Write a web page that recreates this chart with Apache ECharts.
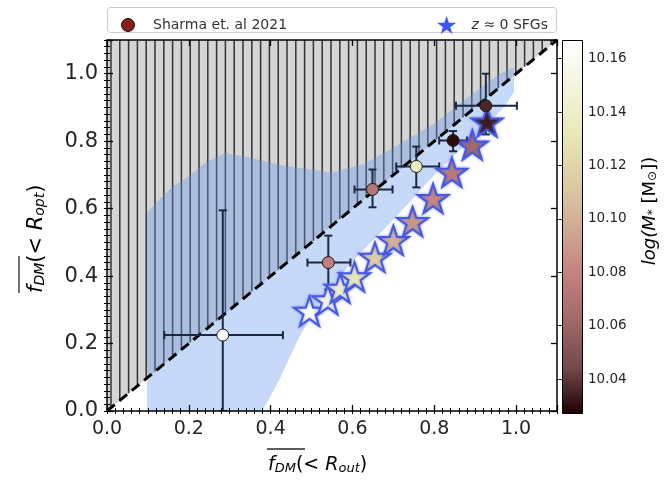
<!DOCTYPE html>
<html><head><meta charset="utf-8">
<script src="https://cdn.jsdelivr.net/npm/echarts@6/dist/echarts.min.js"></script>
<style>html,body{margin:0;padding:0;background:#fff}#c{width:668px;height:488px}</style>
</head><body><div id="c"></div>
<script>
// ---- data ----
const sharmaX    = [0.283, 0.541, 0.649, 0.756, 0.846, 0.926];
const sharmaY    = [0.225, 0.440, 0.657, 0.725, 0.802, 0.905];
const sharmaXLo  = [0.140, 0.490, 0.605, 0.707, 0.812, 0.853];
const sharmaXHi  = [0.430, 0.595, 0.698, 0.812, 0.880, 1.002];
const sharmaYLo  = [0.000, 0.360, 0.604, 0.663, 0.770, 0.820];
const sharmaYHi  = [0.595, 0.520, 0.716, 0.784, 0.830, 1.000];
const sharmaMass = [10.165, 10.078, 10.072, 10.138, 10.030, 10.036];

const sfgX    = [0.495, 0.540, 0.570, 0.605, 0.655, 0.700, 0.747, 0.797, 0.843, 0.893, 0.929];
const sfgY    = [0.296, 0.330, 0.364, 0.398, 0.456, 0.506, 0.562, 0.630, 0.708, 0.789, 0.857];
const sfgMass = [10.165, 10.153, 10.142, 10.132, 10.115, 10.101, 10.089, 10.081, 10.075, 10.063, 10.034];

const bandUpperX = [0.098, 0.130, 0.160, 0.195, 0.240, 0.290, 0.350, 0.430, 0.550, 0.630, 0.700, 0.800, 0.880, 0.960, 0.995];
const bandUpperY = [0.589, 0.630, 0.665, 0.692, 0.735, 0.766, 0.751, 0.728, 0.707, 0.733, 0.781, 0.852, 0.929, 1.000, 1.020];
const bandLowerX = [0.098, 0.380, 0.420, 0.470, 0.520, 0.570, 0.620, 0.670, 0.740, 0.800, 0.860, 0.920, 0.970, 0.995];
const bandLowerY = [0.000, 0.000, 0.090, 0.220, 0.320, 0.400, 0.470, 0.530, 0.620, 0.700, 0.770, 0.840, 0.900, 0.945];

const hatchX = [0, 1.1, 0];
const hatchY = [0, 1.1, 1.1];
const identityX = [0, 1.1];
const identityY = [0, 1.1];

const xTickLabels = [0, 0.2, 0.4, 0.6, 0.8, 1.0];
const yTickLabels = [0, 0.2, 0.4, 0.6, 0.8, 1.0];
const cbTickLabels = [10.04, 10.06, 10.08, 10.10, 10.12, 10.14, 10.16];
const massMin = 10.0273, massMax = 10.167;

const pinkColors = ['#1e0000', '#744a4a', '#a16868', '#c38280', '#d0ab93', '#ddcda5', '#e9e9b5', '#f4f4dd', '#ffffff'];

const FONT = 'DejaVu Sans';
const starPath = 'path://M50,0 L61.8,35.4 L99,35.4 L69,57.3 L80.3,92.7 L50,70.8 L19.7,92.7 L31,57.3 L1,35.4 L38.2,35.4 Z';

// ---- chart ----
const chart = echarts.init(document.getElementById('c'), null, {renderer: 'canvas'});

function mkX(opts) {
  return Object.assign({
    type: 'value', gridIndex: 0, min: 0, max: 1.1, z: 10,
    splitLine: {show: false},
    axisLine: {show: false},
    axisLabel: {show: false},
    axisTick: {show: true, inside: true, length: 6, lineStyle: {color: '#000', width: 1.3}}
  }, opts);
}
const xAxes = [
  mkX({position: 'bottom', interval: 0.2,
       axisLine: {show: true, onZero: false, lineStyle: {color: '#000', width: 1.5}},
       axisLabel: {show: true, customValues: xTickLabels, formatter: v => v.toFixed(1), fontFamily: FONT, fontSize: 19, color: '#262626', margin: 9}}),
  mkX({position: 'bottom', interval: 0.02, axisTick: {show: true, inside: true, length: 3, lineStyle: {color: '#000', width: 1}}}),
  mkX({position: 'top', interval: 0.2, axisLine: {show: true, onZero: false, lineStyle: {color: '#000', width: 1.5}}}),
  mkX({position: 'top', interval: 0.02, axisTick: {show: true, inside: true, length: 3, lineStyle: {color: '#000', width: 1}}}),
  {type: 'value', gridIndex: 1, min: 0, max: 1, show: false}
];
const yAxes = [
  mkX({position: 'left', interval: 0.2,
       axisLine: {show: true, onZero: false, lineStyle: {color: '#000', width: 1.5}},
       axisLabel: {show: true, customValues: yTickLabels, formatter: v => v.toFixed(1), fontFamily: FONT, fontSize: 21, color: '#262626', margin: 9}}),
  mkX({position: 'left', interval: 0.02, axisTick: {show: true, inside: true, length: 3, lineStyle: {color: '#000', width: 1}}}),
  mkX({position: 'right', interval: 0.2, axisLine: {show: true, onZero: false, lineStyle: {color: '#000', width: 1.5}}}),
  mkX({position: 'right', interval: 0.02, axisTick: {show: true, inside: true, length: 3, lineStyle: {color: '#000', width: 1}}}),
  {type: 'value', gridIndex: 1, min: massMin, max: massMax, position: 'right', z: 10,
   splitLine: {show: false},
   axisLine: {show: false},
   axisTick: {show: true, inside: true, length: 4, customValues: cbTickLabels, lineStyle: {color: '#222', width: 1}},
   axisLabel: {show: true, customValues: cbTickLabels, formatter: v => v.toFixed(2), fontFamily: FONT, fontSize: 13.5, color: '#262626', margin: 6}}
];

const cbGradient = {
  type: 'linear', x: 0, y: 1, x2: 0, y2: 0,
  colorStops: pinkColors.map((c, i) => ({offset: i / (pinkColors.length - 1), color: c}))
};

const option = {
  animation: false,
  backgroundColor: '#fff',
  grid: [
    {left: 107, right: 111, top: 40, bottom: 77},
    {left: 562, right: 86, top: 40, bottom: 75}
  ],
  xAxis: xAxes,
  yAxis: yAxes,
  visualMap: {
    type: 'continuous', show: false, min: massMin, max: massMax, dimension: 2,
    seriesIndex: [4, 5],
    inRange: {color: pinkColors}
  },
  legend: [
    {left: 116, top: 13, itemWidth: 24, itemHeight: 13, selectedMode: false,
     data: [{name: 'Sharma et. al 2021', icon: 'circle', itemStyle: {color: '#8b1c1c', borderColor: '#111', borderWidth: 1}}],
     textStyle: {fontFamily: FONT, fontSize: 14, color: '#333', padding: [0, 0, 0, 8]}},
    {right: 115, top: 11, itemWidth: 20, itemHeight: 18, selectedMode: false,
     data: [{name: 'z ≈ 0 SFGs', icon: starPath, itemStyle: {color: '#3a55f0', borderWidth: 0}}],
     formatter: () => '{it|z} ≈ 0 SFGs',
     textStyle: {fontFamily: FONT, fontSize: 14, color: '#333', padding: [0, 0, 0, 10],
                 rich: {it: {fontFamily: FONT, fontStyle: 'italic', fontSize: 14, color: '#333'}}}}
  ],
  graphic: [
    {type: 'rect', z: -1, shape: {x: 107.5, y: 7.5, width: 449, height: 25, r: 3},
     style: {fill: '#fff', stroke: '#cccccc', lineWidth: 1}},
    // x-axis title
    {type: 'text', x: 268, y: 463, style: {
      text: '{f|f}{s|DM}{n|(< }{i|R}{s|out}{n|)}',
      textAlign: 'left', textVerticalAlign: 'middle',
      rich: {
        f: {fontFamily: FONT, fontStyle: 'italic', fontSize: 19, color: '#262626', lineHeight: 24, verticalAlign: 'bottom'},
        i: {fontFamily: FONT, fontStyle: 'italic', fontSize: 19, color: '#262626', lineHeight: 24, verticalAlign: 'bottom'},
        n: {fontFamily: FONT, fontSize: 19, color: '#262626', lineHeight: 24, verticalAlign: 'bottom'},
        s: {fontFamily: FONT, fontStyle: 'italic', fontSize: 13, color: '#262626', lineHeight: 13, verticalAlign: 'bottom'}
      }}},
    {type: 'line', shape: {x1: 267, y1: 449, x2: 305, y2: 449}, style: {stroke: '#262626', lineWidth: 1.3}},
    // y-axis title (rotated)
    {type: 'group', x: 34, y: 293, rotation: Math.PI / 2, children: [
      {type: 'text', x: 0, y: 0, style: {
        text: '{f|f}{s|DM}{n|(< }{i|R}{s|opt}{n|)}',
        textAlign: 'left', textVerticalAlign: 'middle',
        rich: {
          f: {fontFamily: FONT, fontStyle: 'italic', fontSize: 21, color: '#262626', lineHeight: 26, verticalAlign: 'bottom'},
          i: {fontFamily: FONT, fontStyle: 'italic', fontSize: 21, color: '#262626', lineHeight: 26, verticalAlign: 'bottom'},
          n: {fontFamily: FONT, fontSize: 21, color: '#262626', lineHeight: 26, verticalAlign: 'bottom'},
          s: {fontFamily: FONT, fontStyle: 'italic', fontSize: 14, color: '#262626', lineHeight: 14, verticalAlign: 'bottom'}
        }}},
      {type: 'line', shape: {x1: 0, y1: -15, x2: 37, y2: -15}, style: {stroke: '#262626', lineWidth: 1.3}}
    ]},
    // colorbar title
    {type: 'text', x: 648, y: 211, rotation: Math.PI / 2, style: {
      text: '{i|log(M}{s|*}{n| [M}{s|⊙}{n|])}',
      textAlign: 'center', textVerticalAlign: 'middle',
      rich: {
        i: {fontFamily: FONT, fontStyle: 'italic', fontSize: 18, color: '#262626', lineHeight: 22, verticalAlign: 'bottom'},
        n: {fontFamily: FONT, fontSize: 18, color: '#262626', lineHeight: 22, verticalAlign: 'bottom'},
        s: {fontFamily: FONT, fontSize: 12, color: '#262626', lineHeight: 12, verticalAlign: 'bottom'}
      }}}
  ],
  series: [
    // 0: hatched region above 1:1 line
    {type: 'custom', name: 'hatch', xAxisIndex: 0, yAxisIndex: 0, z: 1, clip: true, silent: true,
     data: [[0.5, 0.5]],
     renderItem: (params, api) => {
       const pts = hatchX.map((x, i) => api.coord([x, hatchY[i]]));
       const children = [{type: 'polygon', shape: {points: pts}, style: {fill: '#d5d5d5'}}];
       const p0 = api.coord([0, 0]), p1 = api.coord([1.1, 1.1]);
       const topY = api.coord([0, 1.1])[1];
       for (let px = p0[0] + 4; px < p1[0]; px += 8.8) {
         const dx = (px - p0[0]) / (p1[0] - p0[0]) * 1.1;
         const yy = api.coord([dx, dx])[1];
         children.push({type: 'line', shape: {x1: px, y1: yy, x2: px, y2: topY}, style: {stroke: '#333333', lineWidth: 1.5}});
       }
       return {type: 'group', children};
     }},
    // 1: blue band
    {type: 'custom', name: 'band', xAxisIndex: 0, yAxisIndex: 0, z: 2, clip: true, silent: true,
     data: [[0.5, 0.5]],
     renderItem: (params, api) => {
       const up = bandUpperX.map((x, i) => api.coord([x, bandUpperY[i]]));
       const lo = bandLowerX.map((x, i) => api.coord([x, bandLowerY[i]])).reverse();
       return {type: 'polygon', shape: {points: up.concat(lo)}, style: {fill: 'rgba(100,149,237,0.36)'}};
     }},
    // 2: 1:1 line
    {type: 'line', name: 'identity', xAxisIndex: 0, yAxisIndex: 0, z: 3, silent: true,
     showSymbol: false, symbol: 'none',
     data: identityX.map((x, i) => [x, identityY[i]]),
     lineStyle: {color: '#000', width: 3, type: [10, 6]}},
    // 3: error bars
    {type: 'custom', name: 'errbars', xAxisIndex: 0, yAxisIndex: 0, z: 4, clip: true, silent: true,
     data: sharmaX.map((x, i) => [x, sharmaY[i], sharmaXLo[i], sharmaXHi[i], sharmaYLo[i], sharmaYHi[i]]),
     renderItem: (params, api) => {
       const x = api.value(0), y = api.value(1);
       const a = api.coord([api.value(2), y]), b = api.coord([api.value(3), y]);
       const c = api.coord([x, api.value(4)]), d = api.coord([x, api.value(5)]);
       const st = {stroke: '#1c2740', lineWidth: 2};
       const cap = 4;
       return {type: 'group', children: [
         {type: 'line', shape: {x1: a[0], y1: a[1], x2: b[0], y2: b[1]}, style: st},
         {type: 'line', shape: {x1: c[0], y1: c[1], x2: d[0], y2: d[1]}, style: st},
         {type: 'line', shape: {x1: a[0], y1: a[1] - cap, x2: a[0], y2: a[1] + cap}, style: st},
         {type: 'line', shape: {x1: b[0], y1: b[1] - cap, x2: b[0], y2: b[1] + cap}, style: st},
         {type: 'line', shape: {x1: c[0] - cap, y1: c[1], x2: c[0] + cap, y2: c[1]}, style: st},
         {type: 'line', shape: {x1: d[0] - cap, y1: d[1], x2: d[0] + cap, y2: d[1]}, style: st}
       ]};
     }},
    // 4: stars
    {type: 'scatter', name: 'z ≈ 0 SFGs', xAxisIndex: 0, yAxisIndex: 0, z: 5,
     symbol: starPath, symbolSize: 31, symbolKeepAspect: true,
     data: sfgX.map((x, i) => [x, sfgY[i], sfgMass[i]]),
     itemStyle: {color: '#3a55f0', borderColor: '#4657e0', borderWidth: 2, shadowBlur: 3, shadowColor: 'rgba(70,90,230,0.55)', opacity: 1}},
    // 5: Sharma points
    {type: 'scatter', name: 'Sharma et. al 2021', xAxisIndex: 0, yAxisIndex: 0, z: 6,
     symbol: 'circle', symbolSize: 12,
     data: sharmaX.map((x, i) => [x, sharmaY[i], sharmaMass[i]]),
     itemStyle: {color: '#8b1c1c', borderColor: '#1a1a1a', borderWidth: 1, opacity: 1}},
    // 6: colorbar
    {type: 'custom', name: 'colorbar', xAxisIndex: 4, yAxisIndex: 4, z: 1, silent: true,
     data: [[0.5, massMin]],
     renderItem: (params, api) => {
       const tl = api.coord([0, massMax]), br = api.coord([1, massMin]);
       return {type: 'rect', shape: {x: tl[0] + 0.5, y: tl[1] + 0.5, width: br[0] - tl[0], height: br[1] - tl[1]},
               style: {fill: cbGradient, stroke: '#000', lineWidth: 1}};
     }}
  ]
};
chart.setOption(option);
</script>
</body></html>
